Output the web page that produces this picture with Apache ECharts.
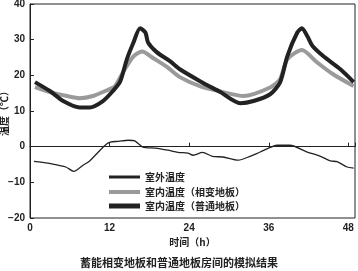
<!DOCTYPE html>
<html>
<head>
<meta charset="utf-8">
<script src="https://cdn.jsdelivr.net/npm/echarts@6/dist/echarts.min.js"></script>
<style>
  html, body { margin: 0; padding: 0; background: #fff; }
  #main { width: 358px; height: 271px; }
</style>
</head>
<body>
<div id="main"></div>
<script>
// 室外温度
var outHours = [0.6, 2.7, 4.2, 5.4, 6.6, 8, 9, 10.3, 11.5, 12.1, 13.3, 14.8, 15.8, 17, 18.9, 20.8, 22.3, 23.8, 24.6, 26, 27.5, 29.1, 31.4, 33.2, 34.7, 37.3, 39.2, 41.8, 43.8, 45.3, 46.3, 47.8, 48.8];
var outTemp = [-4.1, -4.6, -5.2, -5.7, -6.9, -5.2, -4, -1.5, 0.7, 1.3, 1.5, 1.8, 1.6, -0.1, -0.4, -1, -1.6, -1.8, -2.4, -1.6, -2.7, -2.9, -3.8, -2.7, -1.5, 0.4, 0.4, -1.5, -2.7, -4, -4.2, -5.7, -6];
// 室内温度（相变地板）
var pcmHours = [0.75, 3, 5.6, 7.5, 9.5, 11.6, 12.8, 14, 15.6, 16.9, 18.6, 20.7, 22.6, 25.7, 28.7, 32.2, 36.2, 37.7, 38.8, 41, 43.3, 45.7, 48.8];
var pcmTemp = [16.7, 15.3, 14.2, 13.6, 14.2, 15.8, 16.9, 20.8, 25.3, 26.7, 24.8, 22.3, 19.5, 16.9, 15.5, 14.2, 16.6, 18.9, 24.5, 27.1, 23.6, 20.3, 17];
// 室内温度（普通地板）
var normHours = [0.75, 3, 5, 7.5, 9, 11, 12.5, 13.6, 14.6, 15.6, 16.6, 17.4, 17.8, 19.1, 21.1, 22.6, 25.7, 28.7, 31.7, 33.7, 36.2, 37.7, 38.8, 40.3, 41, 41.8, 42.6, 44.2, 46.8, 48.8];
var normTemp = [18.1, 15.6, 12.8, 11, 11, 12.8, 15.6, 18.3, 24.5, 29.2, 33.2, 32, 29.2, 26.5, 24, 21.7, 18.3, 15.3, 12.2, 12.8, 14.7, 18, 25.4, 32, 33.2, 31, 28.2, 25.4, 21.7, 18.1];

var seriesNames = ['室外温度', '室内温度（相变地板）', '室内温度（普通地板）'];

function pairs(xs, ys) {
    return xs.map(function (x, i) { return [x, ys[i]]; });
}

var font = '"Noto Sans CJK SC", "DejaVu Sans", sans-serif';
var ink = '#222';
var grey = '#9a9a9a';

// one legend per row so each key line can have its own thickness
function legendRow(name, top, h) {
    return {
        left: 104, top: top,
        icon: 'rect',
        itemWidth: 31, itemHeight: h,
        selectedMode: false,
        textStyle: { fontSize: 10, fontWeight: 'bold', color: ink, fontFamily: font },
        data: [name]
    };
}

var myChart = echarts.init(document.getElementById('main'));

var option = {
    animation: false,
    title: {
        text: '蓄能相变地板和普通地板房间的模拟结果',
        left: 'center',
        top: 257,
        padding: 0,
        textStyle: { fontSize: 11, fontWeight: 'bold', color: ink, fontFamily: font }
    },
    legend: [
        legendRow(seriesNames[0], 167, 3),
        legendRow(seriesNames[1], 182, 4),
        legendRow(seriesNames[2], 196, 5)
    ],
    grid: {
        left: 30, right: 3, top: 4, bottom: 53,
        outerBoundsMode: 'none',
        containLabel: false,
        show: true, borderColor: ink, borderWidth: 1
    },
    xAxis: {
        type: 'value',
        min: 0, max: 49, interval: 12,
        name: '时间（h）',
        nameLocation: 'middle',
        nameGap: 19,
        nameMoveOverlap: false,
        nameTextStyle: { fontSize: 10, fontWeight: 'bold', color: ink, fontFamily: font },
        axisLine: { lineStyle: { color: ink } },
        axisTick: { inside: true, length: 4, lineStyle: { color: ink } },
        splitLine: { show: false },
        axisLabel: {
            margin: 5, fontSize: 10, fontWeight: 'bold', color: ink,
            fontFamily: 'Liberation Sans',
            formatter: function (v) { return v % 12 === 0 ? String(v) : ''; }
        }
    },
    yAxis: {
        type: 'value',
        min: -20, max: 40, interval: 10,
        name: '温度（℃）',
        nameLocation: 'middle',
        nameGap: 21,
        nameMoveOverlap: false,
        nameTextStyle: { fontSize: 10, fontWeight: 'bold', color: ink, fontFamily: font },
        axisLine: { show: true, lineStyle: { color: ink } },
        axisTick: { show: true, inside: true, length: 4, lineStyle: { color: ink } },
        splitLine: { show: false },
        axisLabel: {
            margin: 5, fontSize: 10, fontWeight: 'bold', color: ink,
            fontFamily: 'Liberation Sans',
            formatter: function (v) { return String(v).replace('-', '−'); }
        }
    },
    series: [
        {
            name: seriesNames[0], type: 'line', symbol: 'none', smooth: 0.25,
            lineStyle: { color: ink, width: 1.3 },
            itemStyle: { color: ink },
            data: pairs(outHours, outTemp)
        },
        {
            name: seriesNames[1], type: 'line', symbol: 'none', smooth: 0.25,
            lineStyle: { color: grey, width: 4 },
            itemStyle: { color: grey },
            data: pairs(pcmHours, pcmTemp)
        },
        {
            name: seriesNames[2], type: 'line', symbol: 'none', smooth: 0.25,
            lineStyle: { color: ink, width: 4 },
            itemStyle: { color: ink },
            data: pairs(normHours, normTemp)
        }
    ]
};
myChart.setOption(option);
</script>
</body>
</html>
